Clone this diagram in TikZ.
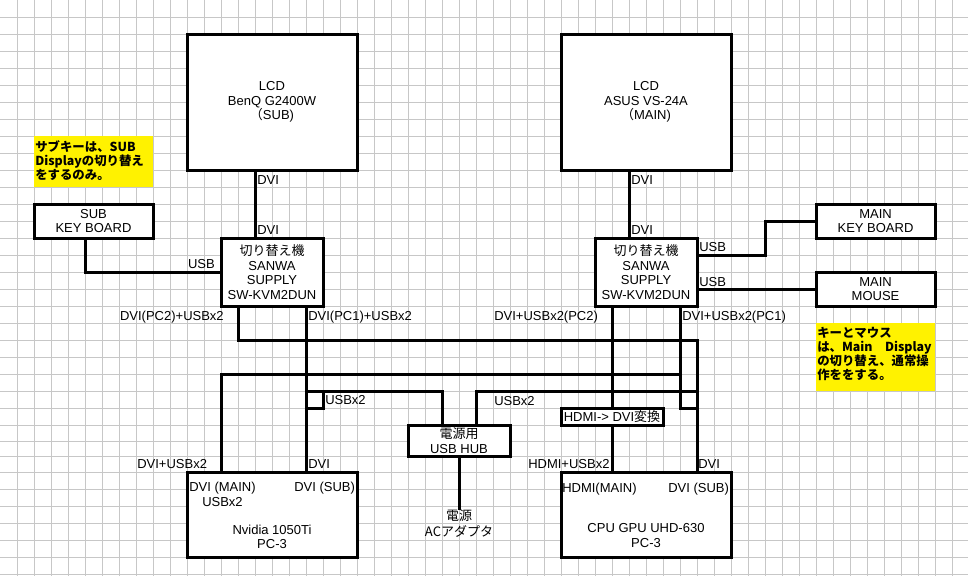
\documentclass[tikz,border=0pt]{standalone}
\usepackage{fontspec}
\setmainfont{Liberation Sans}
\newfontfamily\jp{Noto Sans CJK JP}
\usetikzlibrary{positioning}

\begin{document}
\begin{tikzpicture}[x=0.75pt,y=-0.75pt,line cap=rect,line join=miter,
  font=\fontsize{9.75}{11}\selectfont,
  gridline/.style={black!22,line width=0.75pt,line cap=butt},
  wire/.style={line width=2.25pt},
  box/.style={draw,line width=2.25pt,fill=white,inner sep=0pt,outer sep=0pt,align=center},
  memo/.style={fill=yellow,inner sep=0pt,outer sep=0pt,minimum width=89.25pt},
  memotext/.style={font=\jp\bfseries\fontsize{9.3}{10.6}\selectfont,align=left,inner sep=0pt,anchor=north west},
  lbl/.style={inner sep=0pt}]
\fill[white] (0,0) rectangle (968,576);
\useasboundingbox (0,0) rectangle (968,576);
\foreach \gx in {17,34,...,952} \draw[gridline] (\gx,0) -- (\gx,576);
\foreach \gy in {17,34,...,425} \draw[gridline] (0,\gy) -- (968,\gy);
\foreach \gy in {441,456,472,489,506,523,540,557,574} \draw[gridline] (0,\gy) -- (968,\gy);

\node[box,minimum width=127.5pt,minimum height=102pt] (lcdsub) at (272,102) {LCD\\BenQ G2400W\\{\jp （}SUB)};
\node[box,minimum width=127.5pt,minimum height=102pt] (lcdmain) at (646,102) {LCD\\ASUS VS-24A\\{\jp （}MAIN)};
\node[box,minimum width=76.5pt,minimum height=51pt] (kvmsub) at (272,272) {{\jp 切り替え機}\\SANWA\\SUPPLY\\SW-KVM2DUN};
\node[box,minimum width=76.5pt,minimum height=51pt] (kvmmain) at (646,272) {{\jp 切り替え機}\\SANWA\\SUPPLY\\SW-KVM2DUN};
\node[box,minimum width=89.25pt,minimum height=25.5pt] (kbsub) at (93.5,221) {SUB\\KEY BOARD};
\node[box,minimum width=89.25pt,minimum height=25.5pt] (kbmain) at (875.5,221) {MAIN\\KEY BOARD};
\node[box,minimum width=89.25pt,minimum height=25.5pt] (mousemain) at (875.5,289) {MAIN\\MOUSE};
\node[box,minimum width=76.5pt,minimum height=23.25pt] (hub) at (459,440.5) {{\jp 電源用}\\USB HUB};
\node[box,minimum width=76.5pt,minimum height=12.75pt] (conv) at (612,416.5) {HDMI-> DVI{\jp 変換}};
\node[box,minimum width=127.5pt,minimum height=63.75pt] (pcnv) at (272,514.5) {};
\node[box,minimum width=127.5pt,minimum height=63.75pt] (pcuhd) at (646,514.5) {};
\node[lbl,align=center,anchor=north,inner sep=1pt] (acpow) at (459,508) {{\jp 電源}\\[1pt]{\jp ACアダプタ}};

\node[memo,minimum height=38.25pt] (memosub) at (93.5,161.5) {};
\node[memotext] at (35,140.5) {サブキーは、SUB\\Displayの切り替え\\をするのみ。};
\node[memo,minimum height=51pt] (memomain) at (875.5,357) {};
\node[memotext] at (817,326.5) {キーとマウス\\は、Main　Display\\の切り替え、通常操\\作ををする。};

\coordinate (xsubdvi) at (255,0);
\coordinate (xmaindvi) at (629,0);
\coordinate (xkb) at (85,0);
\coordinate (kbrow) at (0,255);
\coordinate (subpc2) at (238,0);
\coordinate (subpc1) at (306,0);
\coordinate (mainpc2) at (612,0);
\coordinate (mainpc1) at (680,0);
\coordinate (uhdsub) at (697,0);
\coordinate (nvmain) at (221,0);
\coordinate (hubl) at (442,0);
\coordinate (hubr) at (476,0);

\draw[wire] (lcdsub.south -| xsubdvi) -- (kvmsub.north -| xsubdvi);
\draw[wire] (lcdmain.south -| xmaindvi) -- (kvmmain.north -| xmaindvi);
\draw[wire] (kbsub.south -| xkb) |- (kvmsub.west);
\draw[wire] (kvmmain.east |- kbrow) -- (765,255) |- (kbmain.west);
\draw[wire] (kvmmain.east |- mousemain.west) -- (mousemain.west);
\draw[wire] (kvmsub.south -| subpc2) |- (697,340) -- (pcuhd.north -| uhdsub);
\draw[wire] (kvmsub.south -| subpc1) -- (pcnv.north -| subpc1);
\draw[wire] (kvmmain.south -| mainpc1) -- (680,408) -- (697,408);
\draw[wire] (680,374) -| (pcnv.north -| nvmain);
\draw[wire] (kvmmain.south -| mainpc2) -- (conv.north -| mainpc2);
\draw[wire] (conv.south -| mainpc2) -- (pcuhd.north -| mainpc2);
\draw[wire] (hub.north -| hubl) |- (306,391);
\draw[wire] (306,408) -| (323,391);
\draw[wire] (hub.north -| hubr) |- (697,391);
\draw[wire] (hub.south) -- (acpow.north);

\node[lbl,anchor=base west] at (257,184.5) {DVI};
\node[lbl,anchor=base west] at (257,234.5) {DVI};
\node[lbl,anchor=base west] at (631,184.5) {DVI};
\node[lbl,anchor=base west] at (631,234.5) {DVI};
\node[lbl,anchor=base east] at (215,268.5) {USB};
\node[lbl,anchor=base west] at (699,251.5) {USB};
\node[lbl,anchor=base west] at (699,286) {USB};
\node[lbl,anchor=base east] at (224,320.5) {DVI(PC2)+USBx2};
\node[lbl,anchor=base west] at (308,320.5) {DVI(PC1)+USBx2};
\node[lbl,anchor=base west] at (494,320.5) {DVI+USBx2(PC2)};
\node[lbl,anchor=base west] at (682,320.5) {DVI+USBx2(PC1)};
\node[lbl,anchor=base west] at (325,404) {USBx2};
\node[lbl,anchor=base west] at (494,405) {USBx2};
\node[lbl,anchor=base west] at (137,468.5) {DVI+USBx2};
\node[lbl,anchor=base west] at (308,468.5) {DVI};
\node[lbl,anchor=base west] at (528,468.5) {HDMI+USBx2};
\node[lbl,anchor=base west] at (698,468.5) {DVI};
\node[lbl,anchor=base west] at (189,491.5) {DVI (MAIN)};
\node[lbl,anchor=base west] at (202,506.5) {USBx2};
\node[lbl,anchor=base west] at (294,491.5) {DVI (SUB)};
\node[lbl,anchor=base west] at (562,492.5) {HDMI(MAIN)};
\node[lbl,anchor=base west] at (668,492.5) {DVI (SUB)};
\node[lbl,align=center] at (272,537) {Nvidia 1050Ti\\PC-3};
\node[lbl,align=center] at (646,535.5) {CPU GPU UHD-630\\PC-3};
\end{tikzpicture}
\end{document}
